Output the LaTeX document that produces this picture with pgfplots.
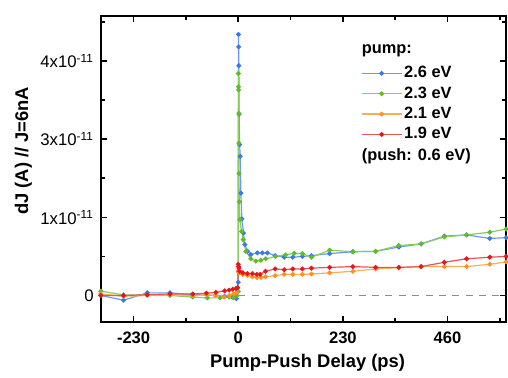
\documentclass[border=0pt]{standalone}
\usepackage{pgfplots}
\pgfplotsset{compat=1.18}
\usepackage{fontspec}
\setmainfont{Liberation Sans}
\definecolor{cblue}{RGB}{60,120,235}
\definecolor{cgreen}{RGB}{95,190,40}
\definecolor{corange}{RGB}{255,145,30}
\definecolor{cred}{RGB}{225,25,30}
\begin{document}
\begin{tikzpicture}
\begin{axis}[
  scale only axis, width=203pt, height=153.5pt,
  xmin=-302, xmax=589, ymin=-0.345, ymax=3.576,
  xtick={-230,0,230,460}, xticklabels={-230,0,230,460},
  minor xtick={-115,115,345,575},
  ytick={0,1,2,3},
  yticklabels={0,1x10\textsuperscript{-11},3x10\textsuperscript{-11},4x10\textsuperscript{-11}},
  minor ytick={0.5,1.5,2.5,3.5},
  tick align=inside,
  major tick length=3pt, minor tick length=2pt,
  every tick/.style={black, line width=0.8pt},
  axis line style={line width=1pt},
  xticklabel style={font=\bfseries\fontsize{8.3}{10}\selectfont, yshift=-1pt},
  yticklabel style={font=\fontsize{8.4}{10}\selectfont},
  xlabel={Pump-Push Delay (ps)}, ylabel={dJ (A) // J=6nA},
  label style={font=\bfseries\fontsize{9.2}{11}\selectfont},
  xlabel style={at={(axis description cs:0.51,0)}, anchor=center, yshift=-20pt},
  ylabel style={at={(axis description cs:-0.191,0.560)}, anchor=center},
  legend style={at={(axis description cs:0.641,0.845)}, anchor=north west, draw=none, fill=none,
    inner sep=0pt, font=\bfseries\fontsize{8.2}{9}\selectfont,
    nodes={inner sep=1pt, text height=6pt, text depth=1.5pt}, row sep=0.7pt},
  legend cell align=left,
  legend image code/.code={
    \draw[#1, mark=none] (0pt,0pt) -- (20pt,0pt);
    \draw[#1] plot coordinates {(10pt,0pt)};
  },
  every axis plot/.append style={line width=0.6pt, mark=*, mark size=0.9pt},
]
\addplot[gray!90, dash pattern=on 3.5pt off 3.2pt, line width=0.8pt, mark=none, forget plot] coordinates {(0,0) (589,0)};
\addplot[cblue!75!white, mark options={fill=cblue, draw=cblue}] coordinates {
(-302,0.0) (-252,-0.06) (-200,0.034) (-150,0.034) (-100,0.013) (-50,0.0) (-30,-0.01) (-13,-0.02) (-4,-0.04)
(0,0.17) (0.5,3.34) (0.9,3.18) (1.3,2.94) (2.0,2.32) (3.0,1.93) (4.4,1.78) (5.8,1.31) (8,0.98) (11.7,0.80) (14.6,0.65)
(20.4,0.566) (27.7,0.524) (42,0.545) (53,0.545) (64,0.545) (81,0.51) (101,0.49) (120,0.49) (141,0.50) (161,0.51)
(201,0.536) (252,0.56) (302,0.565) (353,0.62) (402,0.66) (453,0.76) (502,0.775) (553,0.73) (589,0.74)};
\addlegendentry{2.6 eV}
\addplot[cgreen!75!white, mark options={fill=cgreen, draw=cgreen}] coordinates {
(-302,0.055) (-252,0.008) (-200,0.008) (-150,0.0) (-100,-0.02) (-68,-0.03) (-40,-0.03) (-20,-0.02) (-10,-0.03) (-3,0.0)
(0,0.05) (0.3,2.84) (0.6,2.67) (0.9,2.63) (1.2,2.33) (1.5,1.95) (1.8,1.56) (2.2,1.20) (3.6,0.97) (7.3,0.82) (11,0.715)
(16.8,0.566) (27.7,0.47) (38.7,0.44) (49.6,0.45) (60.6,0.47) (82,0.50) (104,0.52) (123,0.54) (141,0.536) (161,0.49)
(201,0.58) (252,0.56) (302,0.565) (353,0.64) (402,0.66) (453,0.75) (502,0.775) (553,0.81) (589,0.85)};
\addlegendentry{2.3 eV}
\addplot[corange!75!white, mark options={fill=corange, draw=corange}] coordinates {
(-302,0.02) (-252,-0.01) (-200,0.0) (-150,0.01) (-100,0.0) (-70,0.01) (-50,0.0) (-31,-0.02) (-20,0.0) (-10,0.02) (-3,0.04)
(0,0.31) (1,0.30) (3,0.29) (10,0.27) (20,0.26) (31,0.24) (41,0.23) (50,0.23) (60,0.24) (81,0.255) (101,0.27) (120,0.27)
(141,0.27) (161,0.275) (201,0.29) (252,0.31) (302,0.34) (353,0.355) (402,0.37) (453,0.37) (502,0.37) (553,0.40) (589,0.43)};
\addlegendentry{2.1 eV}
\addplot[cred!75!white, mark options={fill=cred, draw=cred}] coordinates {
(-302,0.0) (-252,0.0) (-200,0.01) (-150,0.02) (-100,0.02) (-70,0.03) (-49,0.04) (-30,0.06) (-20,0.07) (-12,0.08) (-5,0.09) (-1,0.1)
(0,0.40) (0.7,0.37) (1.5,0.35) (3,0.31) (10,0.29) (20,0.28) (31,0.28) (41,0.27) (48,0.27) (60,0.31) (81,0.34) (101,0.33)
(120,0.34) (141,0.34) (161,0.35) (201,0.36) (252,0.37) (302,0.36) (353,0.36) (402,0.37) (453,0.425) (502,0.47) (553,0.49) (589,0.50)};
\addlegendentry{1.9 eV}
\node[anchor=west, font=\bfseries\fontsize{8.2}{9}\selectfont, inner sep=0pt] at (axis description cs:0.643,0.888) {pump:};
\node[anchor=west, font=\bfseries\fontsize{8.2}{9}\selectfont, inner sep=0pt] at (axis description cs:0.643,0.541) {(push: 0.6 eV)};
\end{axis}
\path (current axis.south west) ++(-50.5pt,-26.5pt);
\path (current axis.north east) ++(0.5pt,8pt);
\end{tikzpicture}
\end{document}
